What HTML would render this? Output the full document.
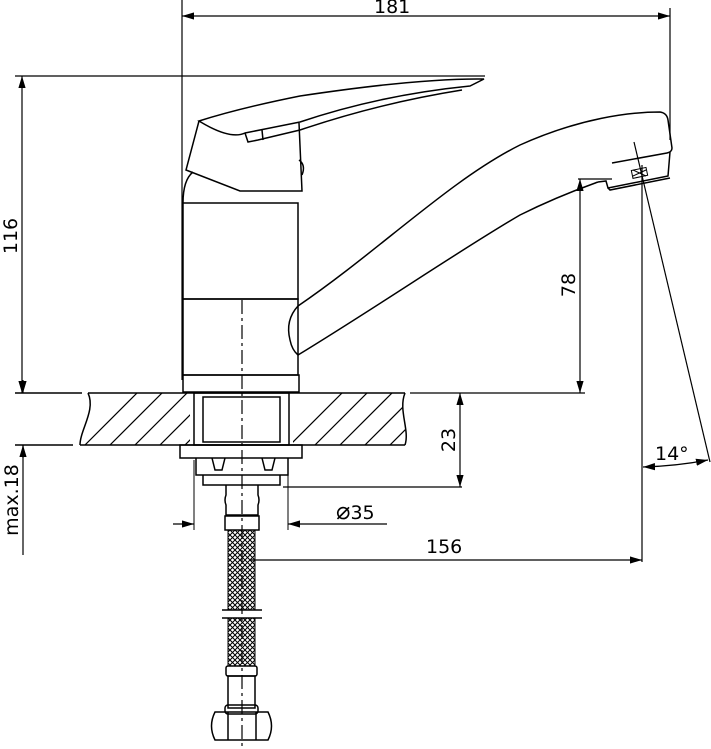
<!DOCTYPE html>
<html><head><meta charset="utf-8"><style>
html,body{margin:0;padding:0;background:#fff}
svg{display:block}
text{font-family:"DejaVu Sans","Liberation Sans",sans-serif;font-size:19px;fill:#000}
</style></head><body>
<svg width="711" height="749" viewBox="0 0 711 749" xmlns="http://www.w3.org/2000/svg">
<defs>
<marker id="a" viewBox="0 0 10 6" refX="10" refY="3" markerWidth="10" markerHeight="6" orient="auto-start-reverse"><path d="M0,0L10,3L0,6z" fill="#000"/></marker>
<pattern id="mesh" width="5" height="5" patternUnits="userSpaceOnUse"><path d="M0,0L5,5M5,0L0,5" stroke="#000" stroke-width="1"/></pattern>
<clipPath id="slab"><path d="M88,393 C96,410 80,430 80,445 L190,445 L190,393 Z M293,393 L293,445 L405,445 C410,430 398,410 405,393 Z"/></clipPath>
</defs>
<g fill="none" stroke="#000" stroke-width="1.5">
<line x1="182" y1="0" x2="182" y2="380" stroke-width="1.2"/>
<line x1="670" y1="8" x2="670" y2="140" stroke-width="1.2"/>
<line x1="182" y1="16" x2="670" y2="16" stroke-width="1.2" marker-start="url(#a)" marker-end="url(#a)"/>
<line x1="15" y1="76" x2="485" y2="76" stroke-width="1.2"/>
<line x1="22" y1="76" x2="22" y2="393" stroke-width="1.2" marker-start="url(#a)" marker-end="url(#a)"/>
<line x1="23" y1="380" x2="23" y2="393" stroke-width="1.2" marker-end="url(#a)"/>
<line x1="23" y1="458" x2="23" y2="445" stroke-width="1.2" marker-end="url(#a)"/>
<line x1="23" y1="445" x2="23" y2="555" stroke-width="1.2"/>
<line x1="15" y1="393" x2="82" y2="393"/>
<line x1="15" y1="445" x2="73" y2="445"/>
<line x1="88" y1="393" x2="405" y2="393"/>
<line x1="80" y1="445" x2="405" y2="445"/>
<line x1="410" y1="393" x2="585" y2="393" stroke-width="1.2"/>
<path d="M88,393 C96,410 80,430 80,445"/>
<path d="M405,393 C398,410 410,430 405,445"/>
<g clip-path="url(#slab)" stroke-width="1.2">
<path d="M60,470L140,390M85,470L165,390M110,470L190,390M135,470L215,390M160,470L240,390M185,470L265,390M290,470L370,390M315,470L395,390M340,470L420,390M365,470L445,390M390,470L470,390M265,470L345,390"/>
</g>
<rect x="194" y="393" width="95" height="52"/>
<rect x="203" y="397" width="77" height="45"/>
<rect x="180" y="445" width="122" height="13"/>
<path d="M196,458 L196,475 L288,475 L288,458"/>
<path d="M203,475 L203,485 L280,485 L280,475"/>
<path d="M212,458 L215,470 L222,470 L225,458 M262,458 L265,470 L272,470 L275,458"/>
<path d="M226,485 L226,495 Q224,500 226,505 L226,515 L258,515 L258,505 Q260,500 258,495 L258,485"/>
<rect x="225" y="516" width="34" height="14"/>
<rect x="228" y="530" width="27" height="80" fill="url(#mesh)" stroke-width="1"/>
<line x1="222" y1="610" x2="262" y2="610"/>
<line x1="222" y1="618" x2="262" y2="618"/>
<rect x="228" y="618" width="27" height="48" fill="url(#mesh)" stroke-width="1"/>
<rect x="226" y="666" width="31" height="10" rx="2"/>
<rect x="228" y="676" width="27" height="32"/>
<rect x="225" y="705" width="33" height="9" rx="3"/>
<path d="M215,712 L268,712 Q275,726 268,740 L215,740 Q208,726 215,712 Z"/>
<line x1="228" y1="712" x2="228" y2="740"/><line x1="256" y1="712" x2="256" y2="740"/>
<line x1="242" y1="300" x2="242" y2="749" stroke-width="1.2" stroke-dasharray="14,4,3,4"/>
<rect x="183" y="203" width="115" height="96"/>
<rect x="183" y="299" width="115" height="76"/>
<rect x="183" y="375" width="116" height="17"/>
<path d="M183,203 Q183,180 193,172"/>
<path d="M199,121 L186,170 L240,191 L302,191 L299,123"/>
<path d="M199,121 Q230,140 245,133 L300,122 Q380,95 470,86 L484,79 Q420,78 300,96 Q240,108 199,121 Z"/>
<path d="M245,133 L248,142 L258,140 L300,130 Q380,103 462,90"/>
<line x1="262" y1="130" x2="263" y2="140"/>
<path d="M299,160 Q306,165 302,175"/>
<path d="M298,306 C380,250 450,180 520,145 C580,118 630,112 660,112 Q667,113 668,120 L672,148 Q672,152 667,153 L612,163"/>
<path d="M298,355 C380,305 460,250 520,215 C560,195 590,185 598,182"/>
<path d="M298,306 Q285,320 290,340 Q292,350 298,355"/>
<path d="M598,182 L606,181 L608,188 L668,176 L670,152"/>
<path d="M608,188 L610,190 L670,178"/>
<rect x="632" y="169" width="15" height="8" transform="rotate(-12 639 173)" stroke-width="1"/>
<line x1="633" y1="170" x2="646" y2="176" stroke-width="1"/>
<line x1="633" y1="176" x2="646" y2="170" stroke-width="1"/>
<line x1="578" y1="179" x2="612" y2="179" stroke-width="1.2"/>
<line x1="580" y1="179" x2="580" y2="393" stroke-width="1.2" marker-start="url(#a)" marker-end="url(#a)"/>
<line x1="642" y1="165" x2="642" y2="562" stroke-width="1.2"/>
<line x1="634" y1="142" x2="710" y2="462" stroke-width="1.2"/>
<path d="M643,467 Q677,466 708,460" stroke-width="1.2" marker-start="url(#a)" marker-end="url(#a)"/>
<line x1="283" y1="487" x2="462" y2="487" stroke-width="1.2"/>
<line x1="460" y1="393" x2="460" y2="487" stroke-width="1.2" marker-start="url(#a)" marker-end="url(#a)"/>
<line x1="194" y1="460" x2="194" y2="530" stroke-width="1"/>
<line x1="288" y1="460" x2="288" y2="530" stroke-width="1"/>
<line x1="173" y1="524" x2="194" y2="524" stroke-width="1.2" marker-end="url(#a)"/>
<line x1="387" y1="524" x2="288" y2="524" stroke-width="1.2" marker-end="url(#a)"/>
<line x1="250" y1="560" x2="642" y2="560" stroke-width="1.2" marker-end="url(#a)"/>
</g>
<text x="374" y="13" font-size="20">181</text>
<text transform="translate(17,236) rotate(-90)" text-anchor="middle" font-size="20">116</text>
<text transform="translate(18,500) rotate(-90)" text-anchor="middle" font-size="20">max.18</text>
<text transform="translate(575,285) rotate(-90)" text-anchor="middle" font-size="20">78</text>
<text transform="translate(455,440) rotate(-90)" text-anchor="middle" font-size="20">23</text>
<text x="336" y="519" font-size="21"><tspan font-size="24">⌀</tspan>35</text>
<text x="426" y="553" font-size="20">156</text>
<text x="655" y="460" font-size="20">14°</text>
</svg>
</body></html>
